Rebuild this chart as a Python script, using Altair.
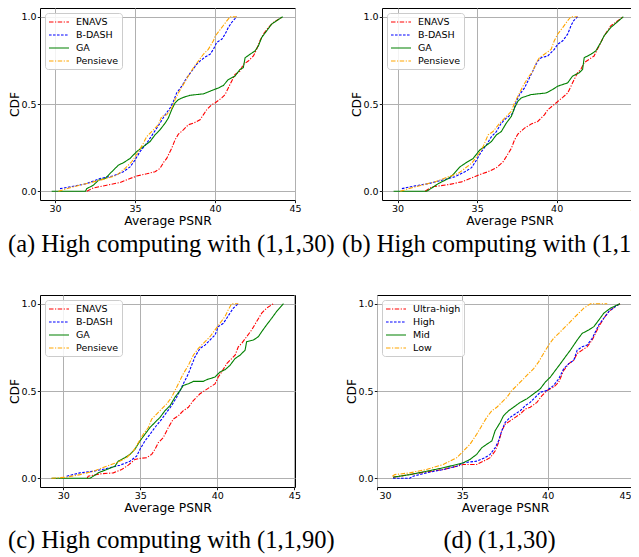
import altair as alt
import pandas as pd

X_TICKS = [30, 35, 40, 45]
Y_TICKS = [0.0, 0.5, 1.0]
SERIES_ABC = ["ENAVS", "B-DASH", "GA", "Pensieve"]
SERIES_D = ["Ultra-high", "High", "Mid", "Low"]
COLORS = ["#ff0000", "#0000ff", "#008000", "#ffa500"]
CAPTIONS = ["(a) High computing with (1,1,30)", "(b) High computing with (1,1,60)",
            "(c) High computing with (1,1,90)", "(d) (1,1,30)"]
X_DOMAINS = [[29.06, 45.0], [29.02, 45.05], [28.49, 45.04], [30.0, 45.0]]

# ---- panel (a)
A_ENAVS_X = [31.98, 32.40, 33.23, 34.06, 34.69, 35.10, 35.73, 36.25, 36.56, 36.81, 36.98, 37.29, 37.50, 37.71, 38.02, 38.33, 38.65, 39.06, 39.27, 39.48, 39.79, 40.00, 40.42, 40.63, 40.83, 41.04, 41.25, 41.56, 41.77, 42.08, 42.40, 42.60, 42.81, 43.02, 43.33, 43.65, 44.23]
A_ENAVS_Y = [0.0, 0.019, 0.035, 0.05, 0.073, 0.087, 0.1, 0.112, 0.131, 0.169, 0.188, 0.246, 0.294, 0.327, 0.352, 0.381, 0.39, 0.41, 0.438, 0.467, 0.496, 0.506, 0.535, 0.554, 0.592, 0.631, 0.669, 0.688, 0.727, 0.746, 0.775, 0.813, 0.862, 0.9, 0.938, 0.967, 1.0]
A_BDASH_X = [30.31, 31.15, 31.98, 32.81, 33.65, 34.27, 34.69, 35.00, 35.31, 35.73, 36.15, 36.56, 36.88, 37.19, 37.40, 37.60, 37.92, 38.23, 38.54, 38.85, 39.06, 39.38, 39.69, 39.90, 40.10, 40.42, 40.63, 40.83, 41.04, 41.35]
A_BDASH_Y = [0.015, 0.029, 0.044, 0.073, 0.088, 0.112, 0.14, 0.179, 0.227, 0.275, 0.333, 0.39, 0.438, 0.477, 0.515, 0.563, 0.602, 0.65, 0.688, 0.727, 0.746, 0.769, 0.785, 0.813, 0.852, 0.871, 0.9, 0.938, 0.967, 1.0]
A_GA_X = [29.79, 31.90, 31.98, 32.40, 32.71, 33.13, 33.44, 33.65, 33.96, 34.27, 34.69, 35.10, 35.52, 35.94, 36.25, 36.56, 36.88, 37.08, 37.29, 37.50, 37.71, 38.02, 38.44, 39.27, 39.79, 40.21, 40.52, 40.83, 41.25, 41.56, 41.77, 41.88, 42.19, 42.50, 42.71, 42.92, 43.23, 43.54, 44.23]
A_GA_Y = [0.0, 0.0, 0.015, 0.035, 0.063, 0.073, 0.102, 0.121, 0.15, 0.163, 0.188, 0.227, 0.256, 0.285, 0.323, 0.352, 0.39, 0.419, 0.467, 0.506, 0.525, 0.538, 0.55, 0.558, 0.577, 0.592, 0.606, 0.64, 0.66, 0.698, 0.708, 0.765, 0.785, 0.804, 0.833, 0.881, 0.919, 0.958, 1.0]
A_PENS_X = [30.21, 30.73, 31.56, 32.40, 33.23, 33.85, 34.38, 34.79, 35.21, 35.52, 35.73, 36.04, 36.46, 36.67, 36.98, 37.29, 37.50, 37.71, 38.02, 38.33, 38.65, 38.96, 39.27, 39.58, 39.90, 40.00, 40.31, 40.63, 40.94, 41.35]
A_PENS_Y = [0.0, 0.015, 0.035, 0.054, 0.073, 0.092, 0.131, 0.169, 0.227, 0.275, 0.313, 0.342, 0.381, 0.429, 0.438, 0.477, 0.524, 0.563, 0.611, 0.66, 0.708, 0.746, 0.785, 0.813, 0.862, 0.887, 0.925, 0.963, 1.0, 1.0]

# ---- panel (b)
B_ENAVS_X = [31.73, 32.15, 33.19, 34.02, 34.44, 35.06, 35.69, 36.21, 36.63, 36.83, 37.15, 37.35, 37.56, 37.98, 38.40, 38.81, 39.23, 39.44, 39.96, 40.38, 40.69, 40.90, 41.10, 41.31, 41.52, 41.73, 42.04, 42.35, 42.56, 42.77, 42.98, 43.40, 44.19]
B_ENAVS_Y = [0.0, 0.025, 0.038, 0.054, 0.069, 0.092, 0.112, 0.135, 0.169, 0.198, 0.246, 0.294, 0.327, 0.362, 0.385, 0.4, 0.438, 0.467, 0.506, 0.538, 0.563, 0.602, 0.64, 0.679, 0.698, 0.737, 0.756, 0.775, 0.813, 0.852, 0.89, 0.948, 1.0]
B_BDASH_X = [30.27, 31.10, 31.94, 32.77, 33.60, 34.23, 34.65, 34.96, 35.27, 35.58, 35.90, 36.21, 36.52, 36.83, 37.25, 37.46, 37.67, 37.98, 38.29, 38.60, 38.81, 39.02, 39.44, 39.85, 40.06, 40.38, 40.69, 40.90, 41.06, 41.31]
B_BDASH_Y = [0.015, 0.031, 0.044, 0.063, 0.083, 0.112, 0.135, 0.179, 0.227, 0.265, 0.313, 0.342, 0.39, 0.419, 0.448, 0.515, 0.554, 0.592, 0.65, 0.708, 0.746, 0.765, 0.775, 0.813, 0.842, 0.862, 0.9, 0.948, 0.977, 1.0]
B_GA_X = [29.75, 31.83, 32.15, 32.56, 33.19, 33.50, 33.92, 34.33, 34.75, 35.17, 35.48, 35.90, 36.21, 36.52, 36.83, 37.15, 37.35, 37.56, 37.77, 38.40, 39.33, 39.75, 40.06, 40.69, 41.00, 41.42, 41.63, 41.73, 42.15, 42.46, 42.77, 42.98, 43.40, 44.19]
B_GA_Y = [0.0, 0.0, 0.019, 0.044, 0.073, 0.096, 0.14, 0.165, 0.188, 0.237, 0.256, 0.285, 0.323, 0.342, 0.39, 0.429, 0.477, 0.515, 0.535, 0.554, 0.563, 0.583, 0.602, 0.621, 0.66, 0.679, 0.698, 0.765, 0.785, 0.804, 0.852, 0.89, 0.938, 1.0]
B_PENS_X = [30.17, 30.69, 31.52, 32.35, 33.19, 33.81, 34.23, 34.65, 35.06, 35.38, 35.69, 36.00, 36.42, 36.73, 37.15, 37.35, 37.56, 37.88, 38.19, 38.50, 38.71, 38.92, 39.23, 39.65, 39.85, 40.06, 40.38, 40.69, 40.90, 41.31]
B_PENS_Y = [0.0, 0.015, 0.035, 0.054, 0.083, 0.102, 0.131, 0.16, 0.208, 0.256, 0.323, 0.342, 0.39, 0.419, 0.458, 0.506, 0.544, 0.602, 0.65, 0.688, 0.737, 0.765, 0.785, 0.813, 0.862, 0.9, 0.938, 0.977, 1.0, 1.0]

# ---- panel (c)
C_ENAVS_X = [31.55, 31.62, 32.38, 33.25, 33.79, 34.22, 34.65, 34.98, 35.41, 35.74, 35.95, 36.17, 36.49, 36.82, 37.14, 37.47, 37.79, 38.12, 38.44, 38.87, 39.20, 39.52, 39.85, 40.06, 40.28, 40.61, 40.82, 41.15, 41.36, 41.58, 41.90, 42.23, 42.55, 42.88, 43.20, 43.64]
C_ENAVS_Y = [0.0, 0.012, 0.025, 0.031, 0.05, 0.075, 0.108, 0.114, 0.118, 0.137, 0.166, 0.204, 0.233, 0.291, 0.339, 0.358, 0.387, 0.407, 0.445, 0.484, 0.503, 0.522, 0.541, 0.58, 0.609, 0.657, 0.676, 0.705, 0.753, 0.773, 0.811, 0.85, 0.898, 0.946, 0.975, 1.0]
C_BDASH_X = [30.22, 31.08, 31.95, 32.81, 33.68, 34.33, 34.76, 34.98, 35.30, 35.63, 35.95, 36.39, 36.71, 37.03, 37.36, 37.58, 37.79, 38.12, 38.33, 38.55, 38.87, 39.20, 39.52, 39.85, 40.06, 40.39, 40.61, 40.82, 41.04, 41.36]
C_BDASH_Y = [0.012, 0.031, 0.04, 0.056, 0.075, 0.098, 0.127, 0.166, 0.214, 0.252, 0.291, 0.339, 0.378, 0.416, 0.464, 0.503, 0.541, 0.599, 0.647, 0.696, 0.744, 0.763, 0.792, 0.821, 0.869, 0.888, 0.917, 0.946, 0.975, 1.0]
C_GA_X = [29.24, 31.73, 31.95, 32.27, 32.81, 33.35, 33.57, 34.00, 34.33, 34.65, 34.98, 35.30, 35.63, 35.95, 36.28, 36.60, 36.93, 37.25, 37.58, 37.79, 38.12, 38.44, 39.09, 39.31, 39.85, 40.17, 40.50, 40.82, 41.15, 41.47, 41.80, 41.90, 42.34, 42.66, 42.88, 43.20, 43.53, 43.85, 44.29]
C_GA_Y = [0.0, 0.0, 0.012, 0.031, 0.05, 0.069, 0.098, 0.118, 0.137, 0.166, 0.214, 0.252, 0.291, 0.32, 0.349, 0.387, 0.416, 0.464, 0.503, 0.532, 0.541, 0.555, 0.555, 0.565, 0.58, 0.609, 0.622, 0.647, 0.686, 0.705, 0.734, 0.782, 0.792, 0.811, 0.84, 0.879, 0.917, 0.956, 1.0]
C_PENS_X = [29.24, 30.22, 31.08, 31.95, 32.81, 33.46, 34.11, 34.55, 34.87, 35.19, 35.52, 35.74, 36.06, 36.39, 36.71, 37.03, 37.25, 37.47, 37.79, 38.12, 38.44, 38.77, 39.09, 39.52, 39.85, 40.17, 40.50, 40.71, 40.93, 41.36]
C_PENS_Y = [0.0, 0.006, 0.021, 0.04, 0.069, 0.089, 0.118, 0.156, 0.204, 0.252, 0.291, 0.339, 0.368, 0.397, 0.426, 0.464, 0.503, 0.541, 0.599, 0.647, 0.705, 0.744, 0.773, 0.811, 0.85, 0.888, 0.927, 0.965, 1.0, 1.0]

# ---- panel (d)
D_UH_X = [30.94, 31.92, 32.90, 33.88, 34.67, 35.06, 35.84, 36.24, 36.63, 36.92, 37.12, 37.31, 37.51, 37.80, 38.10, 38.39, 38.69, 38.98, 39.37, 39.67, 39.96, 40.35, 40.65, 40.94, 41.24, 41.53, 41.73, 42.02, 42.31, 42.61, 42.80, 43.00, 43.29, 43.59, 43.98, 44.24]
D_UH_Y = [0.006, 0.021, 0.037, 0.05, 0.069, 0.079, 0.079, 0.098, 0.118, 0.156, 0.204, 0.272, 0.31, 0.329, 0.349, 0.368, 0.397, 0.407, 0.435, 0.474, 0.503, 0.522, 0.551, 0.618, 0.657, 0.676, 0.715, 0.734, 0.753, 0.792, 0.83, 0.869, 0.917, 0.956, 0.985, 1.0]
D_HIGH_X = [30.94, 31.92, 32.12, 32.90, 33.88, 34.67, 35.06, 35.84, 36.33, 36.63, 36.92, 37.12, 37.31, 37.51, 37.80, 38.10, 38.39, 38.69, 38.98, 39.27, 39.57, 39.96, 40.35, 40.65, 40.94, 41.24, 41.53, 41.73, 42.02, 42.31, 42.61, 42.80, 43.00, 43.29, 43.59, 43.98, 44.24]
D_HIGH_Y = [0.0, 0.0, 0.012, 0.031, 0.05, 0.069, 0.089, 0.098, 0.118, 0.137, 0.175, 0.214, 0.272, 0.32, 0.349, 0.368, 0.387, 0.416, 0.435, 0.464, 0.493, 0.503, 0.532, 0.57, 0.628, 0.657, 0.676, 0.734, 0.753, 0.763, 0.802, 0.84, 0.879, 0.917, 0.956, 0.985, 1.0]
D_MID_X = [30.94, 31.92, 32.90, 33.88, 34.67, 35.06, 35.45, 35.84, 36.14, 36.43, 36.73, 36.92, 37.22, 37.41, 37.71, 38.00, 38.39, 38.78, 39.18, 39.57, 39.86, 40.16, 40.45, 40.75, 41.04, 41.33, 41.73, 42.02, 42.41, 42.71, 43.00, 43.29, 43.69, 44.24]
D_MID_Y = [0.006, 0.021, 0.04, 0.06, 0.079, 0.089, 0.108, 0.137, 0.175, 0.195, 0.214, 0.272, 0.32, 0.358, 0.387, 0.407, 0.435, 0.455, 0.484, 0.513, 0.551, 0.58, 0.618, 0.657, 0.696, 0.734, 0.792, 0.83, 0.85, 0.869, 0.907, 0.946, 0.975, 1.0]
D_LOW_X = [30.90, 31.04, 31.92, 32.90, 33.88, 34.67, 35.06, 35.45, 35.84, 36.14, 36.43, 36.73, 37.02, 37.31, 37.61, 37.90, 38.20, 38.59, 38.88, 39.18, 39.47, 39.76, 40.06, 40.35, 40.65, 40.94, 41.24, 41.53, 41.82, 42.12, 42.51, 43.49]
D_LOW_Y = [0.012, 0.021, 0.031, 0.05, 0.079, 0.118, 0.156, 0.195, 0.252, 0.301, 0.349, 0.387, 0.407, 0.435, 0.464, 0.503, 0.532, 0.57, 0.599, 0.628, 0.667, 0.715, 0.763, 0.802, 0.83, 0.859, 0.888, 0.917, 0.946, 0.975, 1.0, 1.0]

DASHDOT = [4.5, 1.5, 1.2, 1.5]
DASHED = [2.6, 1.4]
SOLID = [1, 0]
DASHES = [DASHDOT, DASHED, SOLID, DASHDOT]

SANS = "DejaVu Sans"
PLOT_H = 192


def panel(names, xs_list, ys_list, domain, caption, cap_x, cap_align, cap_y,
          width=255, flush_end=None):
    rows = []
    for name, xs, ys in zip(names, xs_list, ys_list):
        for i, (x, y) in enumerate(zip(xs, ys)):
            rows.append({"series": name, "x": x, "y": y, "i": i})
    df = pd.DataFrame(rows)
    leg = alt.Legend(
        title=None, orient="top-left", offset=5, padding=3,
        fillColor="rgba(255,255,255,0.85)", strokeColor="#cccccc", cornerRadius=3,
        symbolType="M-1,0H3", symbolSize=100, symbolStrokeWidth=1.2,
        labelFont=SANS, labelFontSize=9.5, labelColor="#000000", labelOffset=16,
        rowPadding=2,
    )
    x_axis_kwargs = dict(values=X_TICKS, format="d", title="Average PSNR",
                         labelPadding=0.5, titleX=width / 2, titleY=20,
                         titleBaseline="middle", titleAlign="center")
    if flush_end is None:
        x_axis_kwargs["labelFlush"] = False
    else:
        x_axis_kwargs["labelFlush"] = 1.5
        x_axis_kwargs["labelFlushOffset"] = flush_end
    lines = alt.Chart(df).mark_line(strokeWidth=1.1, clip=True).encode(
        x=alt.X("x:Q", scale=alt.Scale(domain=domain, nice=False, zero=False),
                axis=alt.Axis(**x_axis_kwargs)),
        y=alt.Y("y:Q", scale=alt.Scale(domain=[-0.05, 1.05], nice=False, zero=False),
                axis=alt.Axis(values=Y_TICKS, format=".1f", title="CDF",
                              labelFlush=False, labelPadding=1.3,
                              titleX=-26, titleY=PLOT_H / 2, titleBaseline="middle",
                              titleAlign="center")),
        color=alt.Color("series:N", scale=alt.Scale(domain=names, range=COLORS), legend=leg),
        strokeDash=alt.StrokeDash("series:N", scale=alt.Scale(domain=names, range=DASHES), legend=leg),
        order="i:Q",
    )
    cap = alt.Chart(pd.DataFrame({"t": [caption]})).mark_text(
        font="Liberation Serif", fontSize=24.5, align=cap_align,
        baseline="middle", color="#000000",
    ).encode(text="t:N", x=alt.value(cap_x), y=alt.value(cap_y))
    return alt.layer(lines, cap).properties(width=width, height=PLOT_H)


pa = panel(SERIES_ABC, [A_ENAVS_X, A_BDASH_X, A_GA_X, A_PENS_X],
           [A_ENAVS_Y, A_BDASH_Y, A_GA_Y, A_PENS_Y], X_DOMAINS[0], CAPTIONS[0],
           -32, "left", 237)
pb = panel(SERIES_ABC, [B_ENAVS_X, B_BDASH_X, B_GA_X, B_PENS_X],
           [B_ENAVS_Y, B_BDASH_Y, B_GA_Y, B_PENS_Y], X_DOMAINS[1], CAPTIONS[1],
           -40, "left", 237)
pc = panel(SERIES_ABC, [C_ENAVS_X, C_BDASH_X, C_GA_X, C_PENS_X],
           [C_ENAVS_Y, C_BDASH_Y, C_GA_Y, C_PENS_Y], X_DOMAINS[2], CAPTIONS[2],
           -32, "left", 246)
pd_ = panel(SERIES_D, [D_UH_X, D_HIGH_X, D_MID_X, D_LOW_X],
            [D_UH_Y, D_HIGH_Y, D_MID_Y, D_LOW_Y], X_DOMAINS[3], CAPTIONS[3],
            122.5, "center", 246, width=256, flush_end=-2)

ind = dict(x="independent", y="independent", color="independent", strokeDash="independent")
row1 = alt.hconcat(pa, pb, spacing=87, bounds="flush").resolve_scale(**ind).resolve_legend(
    color="independent", strokeDash="independent")
row2 = alt.hconcat(pc, pd_, spacing=82, bounds="flush").resolve_scale(**ind).resolve_legend(
    color="independent", strokeDash="independent")

# The page body is 623px wide: the view is cropped there, like the reference's right edge.
chart = alt.vconcat(row1, row2, spacing=287, bounds="flush").resolve_scale(**ind).resolve_legend(
    color="independent", strokeDash="independent"
).properties(
    autosize=alt.AutoSizeParams(type="none"),
    padding={"left": 32, "top": 0, "right": 591, "bottom": 548},
    background="white",
).configure_view(
    stroke="#000000", strokeWidth=1
).configure_axis(
    grid=True, gridColor="#b0b0b0", gridWidth=1, domain=False,
    tickColor="#000000", tickSize=2.7, tickWidth=0.9,
    labelFont=SANS, labelFontSize=9.5, labelColor="#000000",
    titleFont=SANS, titleFontSize=12.3, titleFontWeight="normal", titleColor="#000000",
)

chart.save("out.html", embed_options={"renderer": "svg", "actions": False})
